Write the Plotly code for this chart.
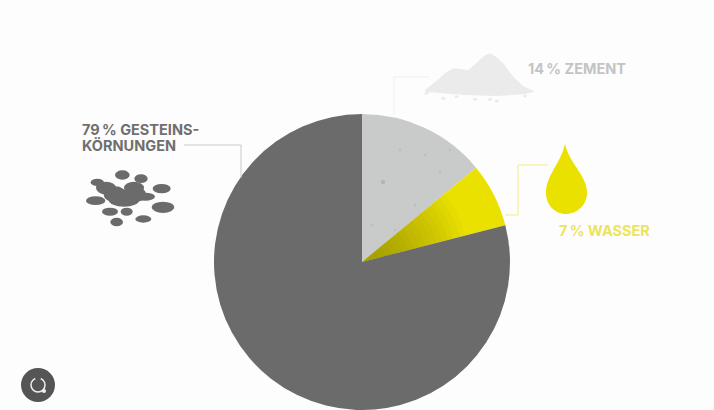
import plotly.graph_objects as go
import math

W, H = 714, 410
labels = ["Zement", "Wasser", "Gesteinskörnungen"]
values = [14, 7, 79]
colors = ["#c9caca", "#ebe100", "#6b6b6b"]
note_texts = ["79\u2009% GESTEINS-", "KÖRNUNGEN", "14\u2009% ZEMENT", "7\u2009% WASSER"]

def X(x): return x / W
def Y(y): return 1 - y / H

def path(points, close=True):
    s = "M " + " L ".join(f"{X(a):.5f},{Y(b):.5f}" for a, b in points)
    return s + (" Z" if close else "")

shapes = []

def line(points, color):
    shapes.append(dict(type="path", xref="paper", yref="paper", path=path(points, False),
                       line=dict(color=color, width=1), fillcolor="rgba(0,0,0,0)"))

def fill(points, color, opacity=1):
    shapes.append(dict(type="path", xref="paper", yref="paper", path=path(points),
                       line=dict(width=0), fillcolor=color, opacity=opacity))

def ell(cx, cy, rx, ry, color, outline=None, width=0, opacity=1):
    shapes.append(dict(type="circle", xref="paper", yref="paper", opacity=opacity,
                       x0=X(cx - rx), x1=X(cx + rx), y0=Y(cy + ry), y1=Y(cy - ry),
                       fillcolor=color, line=dict(width=width, color=outline or color)))

# leader lines
line([(184, 145), (241, 145), (241, 178)], "#c9c9c9")
line([(394, 115), (394, 77), (430, 77)], "#f0f0f0")
line([(505, 215), (518, 215), (518, 165), (548, 165)], "#f3ec80")

# aggregate icon
rock = "#6b6b6b"
for z in [(187, 225, 22, 14), (243, 236, 20, 13), (112, 247, 20, 11), (305, 266, 27, 14),
          (107, 302, 29, 13), (309, 322, 34, 17), (150, 335, 24, 12), (200, 335, 18, 12),
          (250, 357, 24, 11), (170, 366, 19, 13), (138, 264, 30, 19), (222, 264, 30, 19),
          (192, 300, 46, 20), (255, 290, 30, 12), (165, 283, 34, 24), (222, 283, 36, 24)]:
    ell(60 + z[0] / 3, 100 + z[1] / 3, z[2] / 3, z[3] / 3, rock)

# cement heap icon
heap = [(135, 150), (150, 138), (170, 122), (195, 100), (220, 85), (245, 88), (265, 90), (290, 68),
        (315, 46), (330, 40), (350, 52), (370, 70), (390, 98), (410, 120), (430, 138),
        (465, 155), (430, 163), (350, 168), (250, 165), (135, 155)]
fill([(380 + a / 3, 40 + b / 3) for a, b in heap], "#ebebeb")
for z in [(140, 160), (190, 175), (230, 170), (285, 178), (330, 178), (350, 183), (435, 168)]:
    ell(380 + z[0] / 3, 40 + z[1] / 3, 2, 1.5, "#ebebeb")

# water drop icon
P = lambda a, b: f"{X(a):.5f},{Y(b):.5f}"
shapes.append(dict(type="path", xref="paper", yref="paper", fillcolor="#ebe100", line=dict(width=0),
                   path=f"M {P(565,144)} C {P(560,165)} {P(546,175)} {P(546,193)} "
                        f"C {P(546,205)} {P(555,214)} {P(566,214)} "
                        f"C {P(577,214)} {P(587,205)} {P(587,193)} "
                        f"C {P(587,175)} {P(570,165)} {P(565,144)} Z"))

# dark grain fading out of the centre of the water slice, placed from the data
PCX, PCY, PR = 362, 262, 148
total = sum(values)
a0 = 360 * values[0] / total
a1 = 360 * (values[0] + values[1]) / total
for n in range(16):
    frac = 0.72 - n * 0.04
    wedge = [(PCX, PCY)]
    for i in range(9):
        a = math.radians(a0 + (a1 - a0) * i / 8)
        wedge.append((PCX + PR * frac * math.sin(a), PCY - PR * frac * math.cos(a)))
    fill(wedge, "#5a5a20", 0.04)

# cement speckle
for s in [(383, 182, 2.2, .35), (415, 205, 1.5, .2), (400, 150, 1.5, .2), (440, 172, 1.5, .2),
          (372, 225, 1.5, .2), (425, 155, 1.2, .2), (395, 230, 1.2, .2), (450, 150, 1.2, .2)]:
    ell(s[0], s[1], s[2], s[2], "#8c8c8c", opacity=s[3])

# search badge
ell(38, 385, 17, 17, "#555555")
ell(38, 385, 7, 7, "rgba(0,0,0,0)", "#f0f0f0", 1.5)
ell(38, 378, 3, 1.5, "#555555")
ell(44, 391, 2, 2, "#f0f0f0")

fig = go.Figure(go.Pie(labels=labels, values=values, sort=False, direction="clockwise",
                       rotation=0, textinfo="none", hoverinfo="label+percent", showlegend=False,
                       marker=dict(colors=colors, line=dict(width=0)),
                       domain=dict(x=[X(214), X(510)], y=[Y(410), Y(114)])))

font = "Inter"
def note(x, y, text, color, anchor="left"):
    return dict(xref="paper", yref="paper", x=X(x), y=Y(y), text=f"<b>{text}</b>", showarrow=False,
                xanchor=anchor, yanchor="middle", align="left", xshift=-1,
                font=dict(family=font, size=14.5, color=color))

fig.update_layout(
    width=W, height=H, margin=dict(l=0, r=0, t=0, b=0),
    paper_bgcolor="#fdfdfd", plot_bgcolor="#fdfdfd", showlegend=False,
    shapes=shapes,
    annotations=[
        note(81, 129, note_texts[0], "#6f6f6f"),
        note(81, 145, note_texts[1], "#6f6f6f"),
        note(527, 68, note_texts[2], "#c4c4c4"),
        note(558, 231, note_texts[3], "#ece45a"),
    ],
)
fig.write_html("out.html", post_script="document.body.style.margin='0';",
               config=dict(displayModeBar=False))
